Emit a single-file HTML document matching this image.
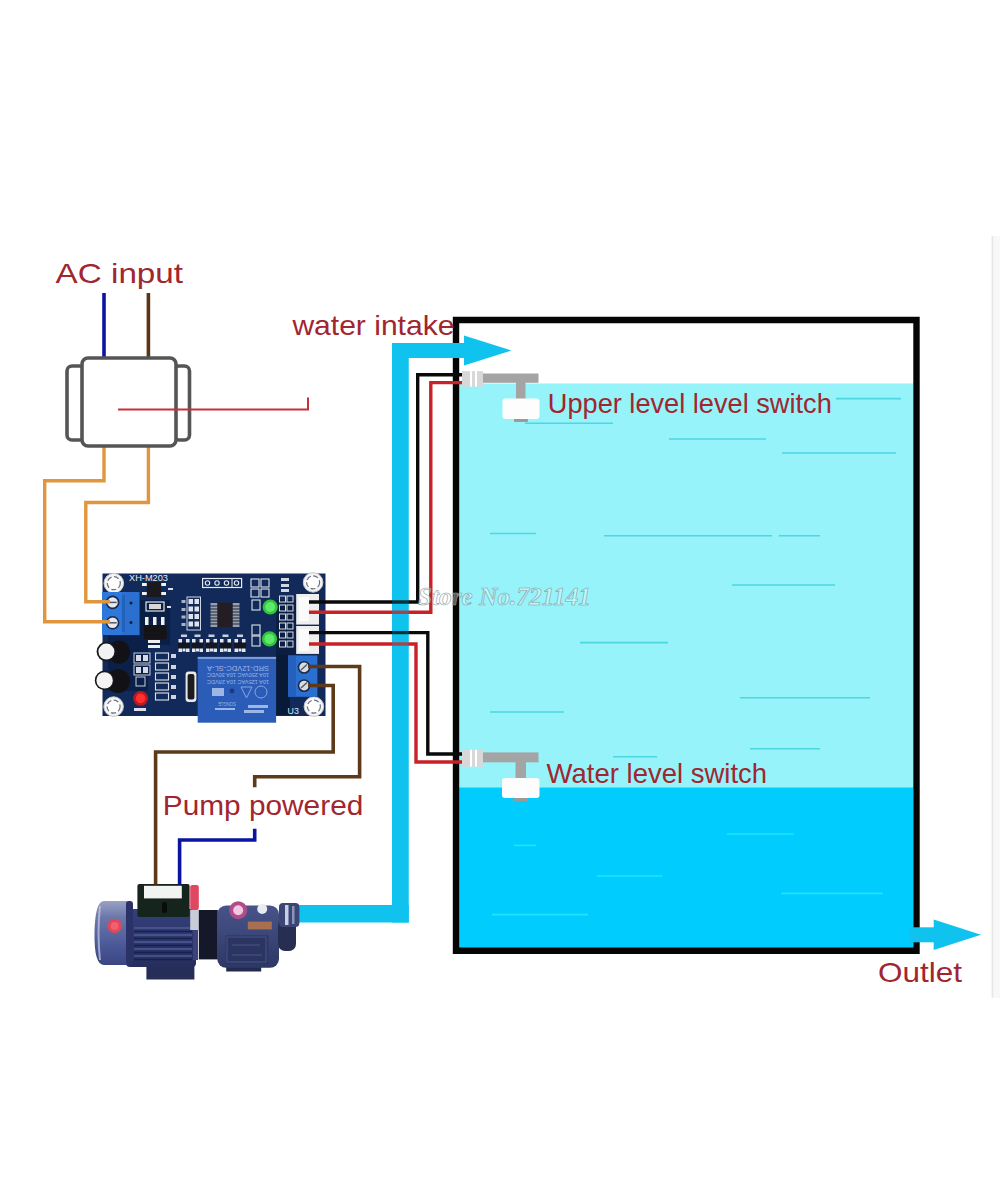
<!DOCTYPE html>
<html><head><meta charset="utf-8"><title>Water level controller wiring</title>
<style>
html,body{margin:0;padding:0;background:#fff;width:1000px;height:1200px;overflow:hidden}
svg{display:block}
text{font-family:"Liberation Sans",sans-serif}
</style></head><body>
<svg width="1000" height="1200" viewBox="0 0 1000 1200">
<rect width="1000" height="1200" fill="#fff"/>
<!-- faint right edge line -->
<rect x="993" y="236" width="7" height="762" fill="#f8f8f8"/>
<line x1="992.4" y1="236" x2="992.4" y2="998" stroke="#e6e6e6" stroke-width="1.6"/>

<!-- ===== TANK ===== -->
<g id="tank">
  <rect x="459" y="383.5" width="454" height="404.5" fill="#96f3fa"/>
  <rect x="459" y="787.5" width="454" height="161" fill="#00cdfd"/>
  <!-- wave lines upper -->
  <g stroke="#4cd7e3" stroke-width="1.6">
    <line x1="836" y1="398.6" x2="901" y2="398.6"/>
    <line x1="525" y1="423.3" x2="613" y2="423.3"/>
    <line x1="669" y1="439" x2="766" y2="439"/>
    <line x1="782" y1="453" x2="896" y2="453"/>
    <line x1="490" y1="533.5" x2="536" y2="533.5"/>
    <line x1="604" y1="535.8" x2="772" y2="535.8"/>
    <line x1="779" y1="535.8" x2="820" y2="535.8"/>
    <line x1="732" y1="585" x2="835" y2="585"/>
    <line x1="580" y1="642.6" x2="668" y2="642.6"/>
    <line x1="740" y1="697.7" x2="870" y2="697.7"/>
    <line x1="490" y1="712" x2="564" y2="712"/>
    <line x1="750" y1="748.8" x2="820" y2="748.8"/>
    <line x1="613" y1="756.7" x2="657" y2="756.7"/>
  </g>
  <g stroke="#22e2ff" stroke-width="1.6">
    <line x1="514" y1="845.4" x2="536" y2="845.4"/>
    <line x1="727" y1="834" x2="794" y2="834"/>
    <line x1="597" y1="876" x2="662" y2="876"/>
    <line x1="781" y1="893.4" x2="883" y2="893.4"/>
    <line x1="492" y1="914.6" x2="588" y2="914.6"/>
  </g>
</g>


<!-- tank border -->
<path d="M456 320 H916.5 V950.8 H456 Z" fill="none" stroke="#050505" stroke-width="6.4"/>
<!-- pipe (intake) -->
<g fill="#10c3ef"><rect x="392" y="343" width="16.75" height="579.5"/><rect x="392" y="343" width="74" height="15"/><rect x="298" y="905" width="110.75" height="17.5"/></g>
<polygon points="464,335.5 511.5,350.5 464,365.6" fill="#10c3ef"/>

<!-- outlet arrow -->
<rect x="910" y="927.3" width="26" height="15" fill="#10c3ef"/>
<polygon points="933.7,919.5 981,934.8 933.7,950" fill="#10c3ef"/>

<!-- PCB -->
<g id="pcb">
  <rect x="102.5" y="573.5" width="223" height="142.5" fill="#112a5a"/>
  <!-- darker areas -->
  <rect x="140" y="600" width="30" height="45" fill="#0a1f44"/>
  <rect x="108" y="636" width="40" height="55" fill="#0b2048"/>
  <rect x="276" y="600" width="20" height="60" fill="#0a1e42"/>
  <rect x="276" y="655" width="14" height="60" fill="#081a38"/>
  <!-- mount holes -->
  <g fill="#f4f4f4" stroke="#c8c8c8" stroke-width="1">
    <circle cx="113.8" cy="583.2" r="9.8"/>
    <circle cx="313.1" cy="582.4" r="9.8"/>
    <circle cx="113.6" cy="706.6" r="9.8"/>
    <circle cx="313.9" cy="706.6" r="9.8"/>
  </g>
  <g fill="#ffffff" stroke="#6a7080" stroke-width="1.2" stroke-dasharray="5 2.5">
    <circle cx="113.8" cy="583.2" r="6.5"/>
    <circle cx="313.1" cy="582.4" r="6.5"/>
    <circle cx="113.6" cy="706.6" r="6.5"/>
    <circle cx="313.9" cy="706.6" r="6.5"/>
  </g>
  <text x="129" y="581" font-size="8.5" fill="#e8eef8" font-family="Liberation Sans" textLength="39" lengthAdjust="spacingAndGlyphs">XH-M203</text>
  <!-- left terminal block -->
  <rect x="102" y="592" width="37.5" height="43" fill="#2b6fd0"/>
  <rect x="102" y="592" width="20" height="43" fill="#2e78dc"/>
  <rect x="122" y="595" width="3" height="37" fill="#2360b8"/>
  <circle cx="131" cy="603" r="1.5" fill="#123"/>
  <circle cx="131" cy="622.5" r="1.5" fill="#123"/>
  <g>
    <circle cx="112.6" cy="602.4" r="6.8" fill="#1a2a48"/>
    <circle cx="112.6" cy="602.4" r="5.2" fill="#e8eaf0"/>
    <line x1="108.5" y1="602.4" x2="116.7" y2="602.4" stroke="#50586a" stroke-width="1.5"/>
    <circle cx="112.6" cy="622.8" r="6.8" fill="#1a2a48"/>
    <circle cx="112.6" cy="622.8" r="5.2" fill="#e8eaf0"/>
    <line x1="108.5" y1="622.8" x2="116.7" y2="622.8" stroke="#50586a" stroke-width="1.5"/>
  </g>
  <!-- top IC (optocoupler) -->
  <g fill="#f0f0f0">
    <rect x="142" y="583" width="5" height="3"/><rect x="142" y="592" width="5" height="3"/>
    <rect x="161" y="583" width="5" height="3"/><rect x="161" y="592" width="5" height="3"/>
  </g>
  <rect x="146.8" y="582" width="14.4" height="15" fill="#1a1a1e"/>
  <g fill="#dde" font-size="3"><rect x="168" y="588" width="5" height="2"/><rect x="167" y="606" width="4" height="2"/></g>
  <!-- small resistor -->
  <rect x="146" y="602" width="18" height="9" fill="none" stroke="#e0e4ee" stroke-width="1.2"/>
  <rect x="149" y="604" width="12" height="5" fill="#d8d8d8"/>
  <!-- regulator -->
  <g fill="#f2f2f2"><rect x="145" y="617" width="3.5" height="8"/><rect x="153" y="617" width="3.5" height="8"/><rect x="161" y="617" width="3.5" height="8"/></g>
  <rect x="143.8" y="625.2" width="22.8" height="14" fill="#141418"/>
  <g fill="#eee"><rect x="148" y="640" width="12" height="3"/><rect x="148" y="645" width="12" height="3"/></g>
  <!-- 4 pin header -->
  <rect x="202.6" y="578.5" width="39" height="9" fill="none" stroke="#e6eaf2" stroke-width="1.2"/>
  <line x1="232" y1="578.5" x2="232" y2="587.5" stroke="#e6eaf2" stroke-width="1"/>
  <g fill="none" stroke="#e6eaf2" stroke-width="1.1"><circle cx="207.5" cy="583" r="2.2"/><circle cx="217" cy="583" r="2.2"/><circle cx="226.5" cy="583" r="2.2"/><circle cx="236.5" cy="583" r="2.2"/></g>
  <!-- left resistor column near IC -->
  <rect x="187" y="597" width="13.5" height="33" fill="none" stroke="#cfd6e4" stroke-width="1"/>
  <g fill="#dde2ec">
    <rect x="188.5" y="599" width="4.5" height="5"/><rect x="194.5" y="599" width="4.5" height="5"/>
    <rect x="188.5" y="606.5" width="4.5" height="5"/><rect x="194.5" y="606.5" width="4.5" height="5"/>
    <rect x="188.5" y="614" width="4.5" height="5"/><rect x="194.5" y="614" width="4.5" height="5"/>
    <rect x="188.5" y="621.5" width="4.5" height="5"/><rect x="194.5" y="621.5" width="4.5" height="5"/>
  </g>
  <g fill="#aab4c8"><rect x="181.5" y="600" width="4" height="3"/><rect x="181.5" y="608" width="4" height="3"/><rect x="181.5" y="615.5" width="4" height="3"/><rect x="181.5" y="623" width="4" height="3"/></g>
  <!-- main IC SOIC16 -->
  <g fill="#9aa0aa">
    <rect x="210.5" y="603" width="7" height="24"/><rect x="232.5" y="603" width="7" height="24"/>
  </g>
  <g stroke="#1a2440" stroke-width="1">
    <line x1="210" y1="606" x2="240" y2="606"/><line x1="210" y1="609" x2="240" y2="609"/><line x1="210" y1="612" x2="240" y2="612"/><line x1="210" y1="615" x2="240" y2="615"/><line x1="210" y1="618" x2="240" y2="618"/><line x1="210" y1="621" x2="240" y2="621"/><line x1="210" y1="624" x2="240" y2="624"/>
  </g>
  <rect x="217.5" y="602.5" width="15" height="24.7" fill="#241e24"/>
  <!-- row of small parts under IC -->
  <rect x="178" y="642" width="12" height="7" fill="#101624"/>
  <g fill="#e2e6ee"><rect x="178.5" y="639" width="3.5" height="3.5"/><rect x="186" y="639" width="3.5" height="3.5"/><rect x="178.5" y="648.5" width="3.5" height="3.5"/><rect x="182.5" y="648.5" width="3" height="3"/><rect x="186" y="648.5" width="3.5" height="3.5"/></g>
  <rect x="181" y="634.5" width="6" height="2.5" fill="#c8d0dc"/>
  <rect x="191.5" y="642" width="12" height="7" fill="#101624"/>
  <g fill="#e2e6ee"><rect x="192.0" y="639" width="3.5" height="3.5"/><rect x="199.5" y="639" width="3.5" height="3.5"/><rect x="192.0" y="648.5" width="3.5" height="3.5"/><rect x="196.0" y="648.5" width="3" height="3"/><rect x="199.5" y="648.5" width="3.5" height="3.5"/></g>
  <rect x="194.5" y="634.5" width="6" height="2.5" fill="#c8d0dc"/>
  <rect x="205.5" y="642" width="12" height="7" fill="#101624"/>
  <g fill="#e2e6ee"><rect x="206.0" y="639" width="3.5" height="3.5"/><rect x="213.5" y="639" width="3.5" height="3.5"/><rect x="206.0" y="648.5" width="3.5" height="3.5"/><rect x="210.0" y="648.5" width="3" height="3"/><rect x="213.5" y="648.5" width="3.5" height="3.5"/></g>
  <rect x="208.5" y="634.5" width="6" height="2.5" fill="#c8d0dc"/>
  <rect x="219.5" y="642" width="12" height="7" fill="#101624"/>
  <g fill="#e2e6ee"><rect x="220.0" y="639" width="3.5" height="3.5"/><rect x="227.5" y="639" width="3.5" height="3.5"/><rect x="220.0" y="648.5" width="3.5" height="3.5"/><rect x="224.0" y="648.5" width="3" height="3"/><rect x="227.5" y="648.5" width="3.5" height="3.5"/></g>
  <rect x="222.5" y="634.5" width="6" height="2.5" fill="#c8d0dc"/>
  <rect x="234" y="642" width="12" height="7" fill="#101624"/>
  <g fill="#e2e6ee"><rect x="234.5" y="639" width="3.5" height="3.5"/><rect x="242" y="639" width="3.5" height="3.5"/><rect x="234.5" y="648.5" width="3.5" height="3.5"/><rect x="238.5" y="648.5" width="3" height="3"/><rect x="242" y="648.5" width="3.5" height="3.5"/></g>
  <rect x="237" y="634.5" width="6" height="2.5" fill="#c8d0dc"/>
  <!-- resistors near LEDs -->
  <g fill="none" stroke="#dfe3ec" stroke-width="1.1">
    <rect x="252" y="600" width="8" height="10"/><rect x="252" y="625" width="8" height="10"/><rect x="252" y="636" width="8" height="10"/>
    <rect x="251" y="579" width="8" height="8"/><rect x="261" y="579" width="8" height="8"/><rect x="251" y="589" width="8" height="8"/><rect x="261" y="589" width="8" height="8"/>
  </g>
  <!-- green LEDs -->
  <circle cx="270.2" cy="607" r="7.6" fill="#2fc63a"/>
  <circle cx="270.2" cy="607" r="5" fill="#5fe86a"/>
  <circle cx="269.5" cy="638.9" r="7.6" fill="#2fc63a"/>
  <circle cx="269.5" cy="638.9" r="5" fill="#5fe86a"/>
  <!-- resistor column right -->
  <g fill="none" stroke="#d8dde8" stroke-width="1">
    <rect x="279.5" y="596" width="6" height="6"/><rect x="287" y="596" width="6" height="6"/>
    <rect x="279.5" y="605" width="6" height="6"/><rect x="287" y="605" width="6" height="6"/>
    <rect x="279.5" y="614" width="6" height="6"/><rect x="287" y="614" width="6" height="6"/>
    <rect x="279.5" y="623" width="6" height="6"/><rect x="287" y="623" width="6" height="6"/>
    <rect x="279.5" y="632" width="6" height="6"/><rect x="287" y="632" width="6" height="6"/>
    <rect x="279.5" y="641" width="6" height="6"/><rect x="287" y="641" width="6" height="6"/>
  </g>
  <g fill="#d0d6e2"><rect x="281" y="578" width="8" height="3"/><rect x="281" y="584" width="8" height="3"/><rect x="281" y="589" width="8" height="3"/></g>
  <!-- JST connectors -->
  <rect x="296.2" y="594" width="22.8" height="30.6" fill="#efefef"/>
  <rect x="299" y="597" width="10" height="24" fill="#fbfbfb"/>
  <rect x="296.2" y="626" width="22.8" height="27.9" fill="#efefef"/>
  <rect x="299" y="629" width="10" height="22" fill="#fbfbfb"/>
  <!-- capacitors -->
  <ellipse cx="119" cy="652" rx="11" ry="11.5" fill="#121216"/>
  <circle cx="106.4" cy="651.6" r="9.8" fill="#18181c"/>
  <circle cx="106.4" cy="651.6" r="8" fill="#f2f2f2"/>
  <ellipse cx="118" cy="681" rx="12" ry="12" fill="#121216"/>
  <circle cx="104.6" cy="680.4" r="9.8" fill="#18181c"/>
  <circle cx="104.6" cy="680.4" r="8.2" fill="#f4f4f4"/>
  <!-- small parts left-bottom -->
  <g fill="none" stroke="#c8ceda" stroke-width="1">
    <rect x="134" y="653" width="16" height="10"/><rect x="134" y="665" width="16" height="10"/><rect x="136" y="677" width="9" height="9"/>
  </g>
  <g fill="#d6dae4"><rect x="136" y="655" width="5" height="6"/><rect x="143" y="655" width="5" height="6"/><rect x="136" y="667" width="5" height="6"/><rect x="143" y="667" width="5" height="6"/></g>
  <!-- resistor column bottom -->
  <g fill="none" stroke="#dde2ea" stroke-width="1.1">
    <rect x="155.5" y="653" width="13" height="7"/><rect x="155.5" y="663" width="13" height="7"/><rect x="155.5" y="673" width="13" height="7"/><rect x="155.5" y="683" width="13" height="7"/><rect x="155.5" y="693" width="13" height="7"/>
  </g>
  <g fill="#cfd5e0"><rect x="171" y="654" width="5" height="4"/><rect x="171" y="665" width="5" height="4"/><rect x="171" y="675" width="5" height="4"/><rect x="171" y="685" width="5" height="4"/><rect x="171" y="695" width="5" height="4"/></g>
  <!-- red LED -->
  <circle cx="140.6" cy="698.4" r="7.4" fill="#c01820"/>
  <circle cx="140.6" cy="698.4" r="4.8" fill="#ff3030"/>
  <rect x="134" y="708" width="12" height="3" fill="#dde"/>
  <!-- crystal -->
  <rect x="185.6" y="671.4" width="10.8" height="30.6" rx="3" fill="#e8e8e8"/>
  <rect x="187.6" y="674" width="6.8" height="25.5" rx="2" fill="#1c1c1e"/>
  <!-- relay -->
  <rect x="197.7" y="656.9" width="78.4" height="65.8" fill="#2a5cb8"/>
  <rect x="197.7" y="656.9" width="78.4" height="2" fill="#7fa0dc"/>
  <g fill="#9cb6e6" font-size="7" font-family="Liberation Sans">
    <text x="205" y="672" transform="rotate(180 237 669)" textLength="62" lengthAdjust="spacingAndGlyphs">SRD-12VDC-SL-A</text>
    <text x="0" y="0" font-size="5.5" transform="translate(269 673) rotate(180)" textLength="62" lengthAdjust="spacingAndGlyphs">10A 250VAC  10A 30VDC</text>
    <text x="0" y="0" font-size="5.5" transform="translate(269 679.5) rotate(180)" textLength="62" lengthAdjust="spacingAndGlyphs">10A 125VAC  10A 28VDC</text>
    <text x="0" y="0" font-size="5" transform="translate(236 702) rotate(180)" textLength="18" lengthAdjust="spacingAndGlyphs">SONGLE</text>
  </g>
  <g fill="none" stroke="#8aa6de" stroke-width="1">
    <circle cx="261" cy="692" r="6"/><path d="M241 687 L252 687 L246.5 698 Z"/>
  </g>
  <g fill="#9cb6e6"><rect x="212" y="688" width="12" height="8"/><rect x="248" y="705" width="20" height="3"/><rect x="244" y="710" width="20" height="3"/><rect x="215" y="708" width="20" height="2"/></g>
  <circle cx="232" cy="691" r="2.4" fill="#1c3c7a"/>
  <!-- right terminal block -->
  <rect x="288" y="655.5" width="29.4" height="41.3" fill="#2b6fd0"/>
  <rect x="288" y="655.5" width="8" height="41.3" fill="#2560bc"/>
  <circle cx="304.1" cy="667.4" r="6.4" fill="#1a2a48"/>
  <circle cx="304.1" cy="667.4" r="4.8" fill="#d8dce6"/>
  <circle cx="304.1" cy="685.6" r="6.4" fill="#1a2a48"/>
  <circle cx="304.1" cy="685.6" r="4.8" fill="#d8dce6"/>
  <line x1="301" y1="670" x2="307" y2="664.5" stroke="#50586a" stroke-width="1.4"/>
  <line x1="301" y1="688" x2="307" y2="682.5" stroke="#50586a" stroke-width="1.4"/>
  <text x="287.6" y="713.8" font-size="8.8" fill="#e4e8f0">U3</text>
</g>

<!-- PUMP -->
<g id="pump">
  <defs>
    <linearGradient id="mot" x1="0" y1="0" x2="0" y2="1">
      <stop offset="0" stop-color="#34407a"/><stop offset="0.5" stop-color="#2c366e"/><stop offset="1" stop-color="#262e5c"/>
    </linearGradient>
    <linearGradient id="cap" x1="0" y1="0" x2="0" y2="1">
      <stop offset="0" stop-color="#9aa2c4"/><stop offset="0.25" stop-color="#6c78aa"/><stop offset="0.7" stop-color="#4a5898"/><stop offset="1" stop-color="#3a4682"/>
    </linearGradient>
    <linearGradient id="head" x1="0" y1="0" x2="0" y2="1">
      <stop offset="0" stop-color="#48548a"/><stop offset="1" stop-color="#2e3866"/>
    </linearGradient>
  </defs>
  <!-- feet -->
  <rect x="146.4" y="960" width="48" height="19.5" fill="#262e58"/>
  <rect x="226.2" y="960" width="35" height="11.5" fill="#232a50"/>
  <!-- motor body -->
  <rect x="126" y="909" width="70" height="58" rx="4" fill="url(#mot)"/>
  <g stroke="#5a64a0" stroke-width="1.3" opacity="0.8">
    <line x1="134" y1="928" x2="192" y2="928"/><line x1="134" y1="935" x2="192" y2="935"/>
    <line x1="134" y1="942" x2="192" y2="942"/><line x1="134" y1="949" x2="192" y2="949"/><line x1="134" y1="956" x2="192" y2="956"/>
  </g>
  <g stroke="#1a2048" stroke-width="1.4">
    <line x1="134" y1="931.5" x2="192" y2="931.5"/><line x1="134" y1="938.5" x2="192" y2="938.5"/>
    <line x1="134" y1="945.5" x2="192" y2="945.5"/><line x1="134" y1="952.5" x2="192" y2="952.5"/><line x1="134" y1="959.5" x2="192" y2="959.5"/>
  </g>
  <!-- end cap -->
  <path d="M104 901 H131 V965 H104 Q94 965 94.5 933 Q95 901 104 901 Z" fill="url(#cap)"/>
  <path d="M100 906 Q97 933 100 960" stroke="#c8cce0" stroke-width="2" fill="none" opacity="0.7"/>
  <rect x="126" y="901" width="7" height="64" rx="3" fill="#2a3268"/>
  <circle cx="114.6" cy="926" r="7.2" fill="#e04858"/>
  <circle cx="114.6" cy="926" r="4" fill="#f06070"/>
  <!-- terminal box -->
  <rect x="137.4" y="884" width="52.2" height="33" rx="2" fill="#16241e"/>
  <rect x="144" y="885.8" width="37.8" height="12.6" fill="#f2f4f2"/>
  <rect x="162" y="902" width="5" height="11" rx="2" fill="#080c0a"/>
  <!-- red switch -->
  <rect x="190.2" y="885" width="8.6" height="25" rx="2" fill="#e04862"/>
  <rect x="190.2" y="910" width="8.6" height="20" fill="#c8ccd8"/>
  <rect x="193" y="930" width="5" height="30" fill="#3a447a"/>
  <!-- coupling -->
  <rect x="198.8" y="910" width="19" height="49.4" fill="#151828"/>
  <!-- pump head -->
  <rect x="217.2" y="905.4" width="61.8" height="62.4" rx="9" fill="url(#head)"/>
  <rect x="225.6" y="935.4" width="42.6" height="28.8" fill="#2c3562"/>
  <g fill="none" stroke="#56629a" stroke-width="0.9" opacity="0.8"><rect x="227" y="937" width="39" height="25"/><line x1="232" y1="945" x2="260" y2="945"/><line x1="232" y1="955" x2="262" y2="955"/></g>
  <circle cx="238.2" cy="910.2" r="9" fill="#b04c88"/>
  <circle cx="238.2" cy="910.2" r="5" fill="#f0c8e4"/>
  <rect x="247.8" y="921.6" width="24" height="7.8" fill="#a87050"/>
  <circle cx="262.2" cy="909" r="5" fill="#e8ecf2"/>
  <!-- outlet nozzle / volute -->
  <rect x="278" y="918" width="18" height="33" rx="7" fill="#262e52"/>
  <rect x="279" y="903" width="20.4" height="24" rx="4" fill="#3c4676"/>
  <rect x="285" y="905" width="3.5" height="20" fill="#c8d0e4"/>
  <rect x="292" y="906" width="2.5" height="18" fill="#8a94b8"/>
</g>

<!-- sensor wires -->
<g fill="none" stroke-width="3.4" stroke-linejoin="miter">
  <path d="M309 602 H417.7 V374.7 H463" stroke="#0a0a0a"/>
  <path d="M309 612.3 H430.8 V382.6 H463" stroke="#c82228"/>
  <path d="M309 632.6 H427.8 V754 H463" stroke="#0a0a0a"/>
  <path d="M309 644 H416 V762 H463" stroke="#c82228"/>
</g>

<rect x="392.2" y="596" width="16.6" height="52" fill="#10c3ef" opacity="0.22"/>
<!-- sensors -->
<g id="sensors">
  <g>
    <rect x="462" y="371.2" width="21" height="15.4" fill="#d8d8d8"/>
    <rect x="470" y="371.2" width="2" height="15.4" fill="#fff"/>
    <rect x="475" y="371.2" width="2" height="15.4" fill="#fff"/>
    <rect x="483" y="373.5" width="55.5" height="9.3" fill="#a4a4a4"/>
    <rect x="516" y="382" width="9.5" height="17" fill="#a4a4a4"/>
    <rect x="514" y="417" width="14" height="5" rx="1" fill="#9a9a9a"/>
    <rect x="502.5" y="398.5" width="37" height="20.5" rx="3" fill="#fdfdfd"/>
  </g>
  <g>
    <rect x="462" y="749.7" width="21" height="17" fill="#d8d8d8"/>
    <rect x="470" y="749.7" width="2" height="17" fill="#fff"/>
    <rect x="475" y="749.7" width="2" height="17" fill="#fff"/>
    <rect x="483" y="752.4" width="55.5" height="9.9" fill="#a4a4a4"/>
    <rect x="515.5" y="762" width="10.5" height="16" fill="#a4a4a4"/>
    <rect x="514" y="796" width="14" height="5" rx="1" fill="#9a9a9a"/>
    <rect x="502" y="778" width="37.5" height="20" rx="3" fill="#fdfdfd"/>
  </g>
</g>

<!-- ===== AC box ===== -->
<g fill="none" stroke-width="3.6">
  <line x1="104" y1="293" x2="104" y2="358" stroke="#0a14a0"/>
  <line x1="148.4" y1="293" x2="148.4" y2="358" stroke="#5a3516"/>
  <path d="M104 446 V480.8 H44.7 V621.7 H110" stroke="#e0963c" stroke-width="3.4"/>
  <path d="M148.4 446 V502.5 H85.8 V601.7 H110" stroke="#e0963c" stroke-width="3.4"/>
  <rect x="67" y="366" width="18" height="74" rx="5" stroke="#555" fill="#fff"/>
  <rect x="174" y="366" width="15.5" height="74" rx="5" stroke="#555" fill="#fff"/>
  <rect x="82" y="358" width="94" height="88" rx="6" stroke="#555" fill="#fff"/>
  <path d="M118 409.5 H308 V397.5" stroke="#c83036" stroke-width="2"/>
</g>

<!-- pump wires -->
<g fill="none" stroke-width="3.6">
  <path d="M308 666.5 H359.6 V776.7 H254.7 V787.3" stroke="#5c3a1a"/>
  <path d="M308 685.5 H333.2 V752 H155.6 V884.5" stroke="#5c3a1a"/>
  <path d="M254.7 828.8 V840 H179.6 V884.5" stroke="#0a14a0"/>
</g>

<!-- labels -->
<g fill="#a02630" font-size="28">
  <text x="55.6" y="282.8" textLength="127.5" lengthAdjust="spacingAndGlyphs">AC input</text>
  <text x="292.4" y="334.7" textLength="162" lengthAdjust="spacingAndGlyphs">water intake</text>
  <text x="547.8" y="413" textLength="284" lengthAdjust="spacingAndGlyphs">Upper level level switch</text>
  <text x="546.6" y="783" textLength="220.5" lengthAdjust="spacingAndGlyphs">Water level switch</text>
  <text x="162.8" y="815.1" textLength="200.5" lengthAdjust="spacingAndGlyphs">Pump powered</text>
  <text x="878" y="982" textLength="84" lengthAdjust="spacingAndGlyphs">Outlet</text>
</g>

<!-- watermark -->
<text x="418" y="604.5" style="font-family:'Liberation Serif',serif;font-style:italic;font-weight:bold" font-size="25" fill="#ffffff" fill-opacity="0.35" stroke="#8a9ca4" stroke-width="0.6" textLength="173" lengthAdjust="spacingAndGlyphs">Store No.721141</text>
</svg>
</body></html>
